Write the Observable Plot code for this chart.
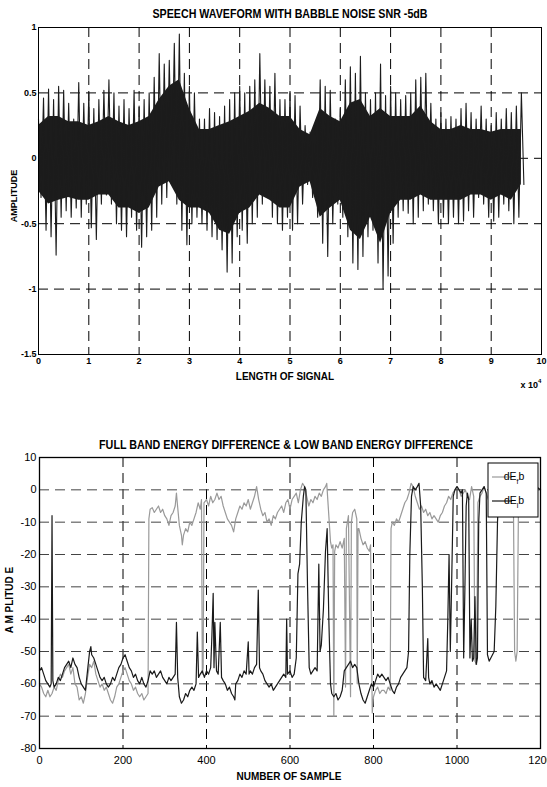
<!DOCTYPE html>
<html><head><meta charset="utf-8">
<script src="https://cdn.jsdelivr.net/npm/d3@7"></script>
<script src="https://cdn.jsdelivr.net/npm/@observablehq/plot@0.6"></script>
<style>
body{margin:0;background:#fff;font-family:"Liberation Sans",Arial,sans-serif;}
#wrap{position:relative;width:547px;height:787px;overflow:hidden;background:#fff;}
#wrap svg{position:absolute;left:0;}
.t{position:absolute;font-weight:bold;white-space:nowrap;color:#000;line-height:1;}
</style></head><body><div id="wrap"></div>
<script>
// ---------- top chart data (amplitude envelope per 1000 samples, x in units of 10^4) ----------
const waveUpper = [
0.30,0.46,0.53,0.45,0.55,0.52,0.42,0.30,0.58,0.42,
0.50,0.38,0.45,0.52,0.60,0.50,0.40,0.45,0.38,0.52,
0.40,0.45,0.50,0.62,0.80,0.72,0.75,0.88,0.95,0.65,
0.55,0.50,0.30,0.30,0.38,0.35,0.32,0.40,0.45,0.50,
0.55,0.50,0.55,0.60,0.80,0.60,0.55,0.65,0.45,0.45,
0.50,0.48,0.40,0.25,0.20,0.25,0.60,0.55,0.52,0.30,
0.38,0.60,0.70,0.65,0.78,0.50,0.45,0.50,0.72,0.48,
0.55,0.50,0.45,0.48,0.50,0.60,0.62,0.65,0.42,0.30,
0.35,0.30,0.32,0.30,0.38,0.42,0.35,0.30,0.40,0.30,
0.25,0.35,0.30,0.38,0.35,0.40,0.50];
const waveLower = [
-0.30,-0.55,-0.60,-0.74,-0.45,-0.40,-0.45,-0.38,-0.45,-0.35,
-0.53,-0.62,-0.35,-0.28,-0.35,-0.50,-0.55,-0.60,-0.45,-0.55,
-0.68,-0.60,-0.55,-0.45,-0.35,-0.30,-0.20,-0.35,-0.55,-0.66,
-0.50,-0.45,-0.50,-0.55,-0.60,-0.62,-0.70,-0.87,-0.80,-0.60,
-0.55,-0.65,-0.50,-0.45,-0.35,-0.30,-0.45,-0.50,-0.55,-0.45,
-0.55,-0.50,-0.35,-0.20,-0.30,-0.45,-0.65,-0.75,-0.50,-0.35,
-0.45,-0.60,-0.80,-0.85,-0.75,-0.60,-0.55,-0.80,-1.00,-0.90,
-0.65,-0.45,-0.40,-0.42,-0.50,-0.45,-0.40,-0.35,-0.40,-0.50,
-0.45,-0.50,-0.45,-0.50,-0.48,-0.40,-0.45,-0.30,-0.35,-0.45,
-0.48,-0.45,-0.35,-0.40,-0.50,-0.45,-0.20];
// dense core of the waveform per 2000 samples
const coreUpper = [0.25,0.32,0.32,0.28,0.28,0.25,0.28,0.32,0.28,0.25,
0.28,0.32,0.45,0.55,0.60,0.38,0.22,0.22,0.25,0.28,
0.32,0.36,0.42,0.38,0.32,0.32,0.22,0.18,0.38,0.32,
0.28,0.42,0.45,0.32,0.38,0.32,0.32,0.32,0.40,0.28,
0.22,0.22,0.25,0.22,0.22,0.20,0.22,0.22,0.22];
const coreLower = [-0.25,-0.35,-0.32,-0.30,-0.32,-0.32,-0.28,-0.28,-0.38,-0.38,
-0.42,-0.38,-0.22,-0.18,-0.32,-0.38,-0.38,-0.42,-0.55,-0.58,
-0.42,-0.38,-0.28,-0.32,-0.38,-0.38,-0.22,-0.18,-0.45,-0.38,
-0.32,-0.55,-0.62,-0.45,-0.65,-0.42,-0.32,-0.32,-0.28,-0.32,
-0.32,-0.32,-0.32,-0.28,-0.28,-0.32,-0.28,-0.32,-0.20];
const topXTicks = [0,1,2,3,4,5,6,7,8,9,10];
const topYTicks = [-1.5,-1,-0.5,0,0.5,1];

// ---------- bottom chart data: [sample, dB] ----------
const fullBand = [[0,-60],[5,-61],[10,-63],[15,-64],[20,-62],[25,-64],[30,-63],[35,-61],[40,-62],[45,-59],[50,-57],[55,-58],[60,-56],[65,-55],[70,-54],[75,-57],[80,-55],[85,-60],[90,-61],[95,-65],[100,-64],[105,-66],[110,-63],[115,-58],[120,-54],[125,-55],[130,-53],[135,-57],[140,-59],[145,-61],[150,-60],[155,-62],[160,-61],[165,-63],[170,-65],[175,-66],[180,-64],[185,-61],[190,-60],[195,-58],[200,-56],[205,-55],[210,-57],[215,-59],[220,-60],[225,-62],[230,-61],[235,-63],[240,-64],[245,-63],[250,-65],[255,-64],[260,-63],
[262,-9],[265,-6],[270,-5.5],[275,-7],[280,-6],[285,-5],[290,-7],[295,-6],[300,-8],[305,-9],[310,-11],[315,-8],[320,-7],[325,-5],[328,-1],[330,-4],[335,-11],[340,-14],[342,-17],[345,-14],[350,-12],[355,-13],[360,-10],[365,-11],[370,-9],[375,-7],[380,-4],[385,-6],[388,-3],[390,-57],[392,-55],[394,-4],[400,-3],[405,-5],[410,-2],[415,-4],[420,-3],[425,-1],[430,-3],[435,-2],[440,-5],[445,-7],[450,-9],[455,-10],[460,-11],[465,-13],[470,-9],[475,-7],[480,-5],[485,-6],[490,-4],[495,-5],[500,-3],[505,-6],[510,-4],[515,-2],[520,1],[525,-3],[530,-6],[535,-8],[540,-7],[545,-10],[550,-9],[555,-11],[560,-8],[565,-9],[570,-7],[575,-6],[580,-5],[585,-7],[590,-4],[595,-3],[600,-6],[605,-3],[610,-2],[615,-1],[620,-4],[625,0],[630,2],[635,1],[640,-2],[645,-5],[650,-3],[655,-4],[660,-2],[665,-3],[670,-1],[675,-2],[680,0],[685,1],[688,2],[692,-6],[697,-16],[700,-18],[703,-17],[705,-70],[707,-19],[710,-17],[715,-18],[720,-16],[725,-18],[730,-15],[733,-61],[735,-12],[740,-8],[745,-64],[747,-10],[750,-7],[755,-6],[760,-9],[761,-60],[763,-12],[765,-12],[770,-15],[775,-17],[780,-16],[785,-18],[790,-19],[793,-17],[797,-69],[800,-64],[805,-62],[810,-61],[815,-63],[820,-62],[825,-62],[830,-63],[835,-61],[840,-62],[842,-12],[845,-10],[850,-11],[855,-9],[860,-10],[865,-8],[870,-6],[875,-4],[880,-3],[885,-1],[890,2],[895,1],[900,-2],[905,-4],[910,-6],[915,-5],[920,-7],[925,-6],[930,-8],[935,-7],[940,-9],[945,-8],[950,-9],[955,-10],[960,-8],[965,-7],[970,-5],[975,-4],[980,-2],[985,-3],[990,-1],[995,0],[1000,1],[1005,0],[1010,-2],[1015,-1],[1020,0],[1025,-2],[1030,-3],[1035,1],[1040,-2],[1043,-53],[1047,-54],[1050,-4],[1055,-2],[1060,-1],[1065,1],[1070,-1],[1075,-3],[1080,-2],[1085,-1],[1090,0],[1095,-2],[1100,-1],[1105,-3],[1110,-2],[1115,-1],[1120,-2],[1125,-1],[1130,-3],[1135,-2],[1138,-50],[1141,-53],[1144,-50],[1147,-8],[1150,-3]];

const lowBand = [[0,-56],[5,-55],[10,-57],[15,-59],[20,-60],[25,-61],[28,-60],[30,-8],[32,-59],[35,-61],[40,-60],[45,-58],[50,-59],[55,-57],[60,-55],[65,-54],[70,-53],[75,-55],[80,-52],[85,-54],[90,-55],[95,-58],[100,-60],[105,-61],[110,-62],[115,-56],[120,-50],[123,-48.5],[125,-51],[130,-52],[135,-54],[140,-56],[145,-58],[150,-59],[155,-58],[160,-60],[165,-61],[170,-60],[175,-58],[180,-59],[185,-57],[190,-55],[195,-54],[200,-52],[205,-51],[210,-53],[215,-55],[220,-56],[225,-58],[230,-57],[235,-59],[240,-60],[245,-58],[250,-60],[255,-61],[260,-59],[265,-56],[270,-57],[275,-56],[280,-58],[285,-57],[290,-56],[295,-58],[300,-59],[305,-60],[310,-58],[315,-59],[320,-58],[325,-57],[328,-41],[331,-58],[335,-64],[340,-66],[345,-65],[350,-63],[355,-64],[360,-62],[365,-61],[370,-62],[375,-60],[378,-44],[381,-58],[385,-57],[390,-56],[395,-58],[400,-56],[405,-57],[410,-55],[413,-45],[416,-32],[418,-55],[420,-41],[424,-56],[428,-57],[433,-41],[436,-58],[440,-59],[445,-60],[450,-62],[455,-61],[460,-63],[465,-64],[468,-65],[470,-60],[475,-59],[480,-57],[485,-58],[490,-56],[495,-57],[500,-47],[502,-57],[505,-56],[510,-57],[515,-55],[520,-54],[524,-31],[527,-55],[530,-56],[535,-57],[540,-59],[545,-60],[550,-61],[555,-60],[560,-62],[565,-61],[570,-60],[575,-59],[580,-58],[585,-57],[590,-58],[592,-40],[594,-57],[600,-56],[605,-58],[610,-57],[615,-52],[619,-26],[623,-23],[627,-10],[632,-2],[635,1],[638,0],[642,-30],[646,-55],[650,-57],[655,-56],[660,-55],[665,-56],[669,-23],[672,-50],[675,-48],[680,-37],[685,-19],[689,-12],[693,-40],[697,-60],[700,-63],[705,-64],[710,-63],[715,-65],[720,-64],[725,-62],[730,-56],[735,-55],[740,-54],[745,-53],[750,-55],[755,-54],[760,-55],[765,-60],[770,-63],[775,-65],[780,-66],[785,-64],[790,-62],[795,-60],[800,-61],[805,-59],[810,-57],[815,-58],[820,-57],[825,-58],[830,-59],[835,-58],[840,-60],[845,-62],[850,-63],[855,-61],[860,-60],[865,-58],[870,-57],[875,-56],[880,-55],[884,-50],[887,-20],[891,-2],[895,1],[900,0],[905,1],[909,2],[913,-5],[917,-30],[920,-58],[925,-59],[930,-46],[932,-58],[935,-60],[940,-59],[945,-61],[950,-60],[955,-61],[960,-62],[965,-60],[970,-58],[975,-56],[978,-40],[981,-20],[984,-50],[987,-30],[991,-2],[995,0],[1000,1],[1005,0],[1010,-1],[1013,0],[1016,-52],[1019,-30],[1022,-5],[1025,-1],[1028,-3],[1031,-52],[1034,-40],[1037,-53],[1040,-52],[1043,-33],[1046,-54],[1049,-52],[1052,-10],[1055,-1],[1060,0],[1065,1],[1070,-1],[1073,-51],[1077,-53],[1081,-52],[1085,-51],[1089,-50],[1093,-36],[1097,-10],[1100,-1],[1105,0],[1110,-1],[1120,0],[1130,-1],[1140,0],[1150,-1],[1160,0],[1170,1],[1180,0],[1190,1],[1200,0]];
const botXTicks = [0,200,400,600,800,1000,1200];
const botYTicks = [-80,-70,-60,-50,-40,-30,-20,-10,0,10];

// ---------- build ----------
const wrap = document.getElementById("wrap");
// waveform drawn as a trace that swings from each bin's positive peak to its negative peak
const waveTrace = waveUpper.flatMap((hi, i) => [{u: i / 10, v: hi}, {u: i / 10 + 0.05, v: waveLower[i]}]);
const coreBins = coreUpper.map((hi, i) => ({u: i / 5, hi, lo: coreLower[i]}));
const fmt = d => String(d);
const dash = "10,6";
const ink = "#1c1c1c";

const topPlot = Plot.plot({
  width: 547, height: 395,
  marginLeft: 38, marginRight: 6, marginTop: 27, marginBottom: 41,
  x: {domain: [0, 10], ticks: topXTicks, tickFormat: fmt, tickSize: 0, tickPadding: 3, label: null},
  y: {domain: [-1.5, 1], ticks: topYTicks, tickFormat: fmt, tickSize: 0, tickPadding: 2, label: null},
  style: {fontFamily: "Liberation Sans, Arial, sans-serif", fontSize: "9px", fontWeight: "bold", color: "#000", background: "transparent"},
  marks: [
    Plot.ruleX(topXTicks.slice(1, -1), {stroke: "#000", strokeDasharray: dash}),
    Plot.ruleY(topYTicks.slice(1, -1), {stroke: "#000", strokeDasharray: dash}),
    Plot.areaY(coreBins, {x: "u", y1: "lo", y2: "hi", fill: ink}),
    Plot.line(waveTrace, {x: "u", y: "v", stroke: ink, strokeWidth: 1.1}),
    Plot.frame({stroke: "#000"})
  ]
});
topPlot.style.top = "0px";
wrap.appendChild(topPlot);

const botPlot = Plot.plot({
  width: 547, height: 392,
  marginLeft: 39, marginRight: 7, marginTop: 62, marginBottom: 39,
  x: {domain: [0, 1200], ticks: botXTicks, tickFormat: fmt, tickSize: 0, tickPadding: 8, label: null},
  y: {domain: [-80, 10], ticks: botYTicks, tickFormat: fmt, tickSize: 0, tickPadding: 3, label: null},
  style: {fontFamily: "Liberation Sans, Arial, sans-serif", fontSize: "11px", color: "#000", background: "transparent"},
  marks: [
    Plot.ruleX(botXTicks.slice(1, -1), {stroke: "#000", strokeDasharray: dash}),
    Plot.ruleY(botYTicks.slice(1, -1), {stroke: "#444", strokeDasharray: dash}),
    Plot.line(fullBand, {x: d => d[0], y: d => d[1], stroke: "#9a9a9a", strokeWidth: 1.2}),
    Plot.line(lowBand, {x: d => d[0], y: d => d[1], stroke: "#1a1a1a", strokeWidth: 1.2}),
    Plot.frame({stroke: "#000", strokeWidth: 1.3})
  ]
});
botPlot.style.top = "395px";
wrap.appendChild(botPlot);

// legend
const lg = d3.select(botPlot).append("g").attr("font-family", "Liberation Sans, Arial, sans-serif").attr("font-size", 10.5);
lg.append("rect").attr("x", 488).attr("y", 68).attr("width", 50).attr("height", 54).attr("fill", "#fff").attr("stroke", "#000");
const legendItems = [{name: "f", color: "#9a9a9a", y: 82}, {name: "l", color: "#1a1a1a", y: 106}];
legendItems.forEach(it => {
  lg.append("line").attr("x1", 492).attr("x2", 512).attr("y1", it.y).attr("y2", it.y).attr("stroke", it.color).attr("stroke-width", 1.2);
  const t = lg.append("text").attr("x", 514).attr("y", it.y + 3).attr("fill", "#000");
  t.append("tspan").text("dE");
  t.append("tspan").attr("font-size", 7).attr("dy", 4).text(it.name);
  t.append("tspan").attr("dy", -4).text("b");
});

// text labels
function label(txt, left, top, size, extra) {
  const s = document.createElement("div");
  s.className = "t";
  s.innerHTML = txt;
  s.style.left = left + "px";
  s.style.top = top + "px";
  s.style.fontSize = size + "px";
  s.style.transform = extra || "translate(-50%,-50%)";
  wrap.appendChild(s);
}
label("SPEECH WAVEFORM WITH BABBLE NOISE SNR -5dB", 290, 14, 12, "translate(-50%,-50%) scaleX(0.89)");
label("LENGTH OF SIGNAL", 285, 377, 10);
label("x 10<sup style='font-size:6px;vertical-align:5px'>4</sup>", 531, 384, 9);
label("AMPLITUDE", 14, 196, 9, "translate(-50%,-50%) rotate(-90deg)");
label("FULL BAND ENERGY DIFFERENCE &amp; LOW BAND ENERGY DIFFERENCE", 286, 445, 12.5, "translate(-50%,-50%) scaleX(0.86)");
label("NUMBER OF SAMPLE", 289, 777, 10);
label("A M PLITUD E", 10, 600, 10, "translate(-50%,-50%) rotate(-90deg)");
</script>
</body></html>
